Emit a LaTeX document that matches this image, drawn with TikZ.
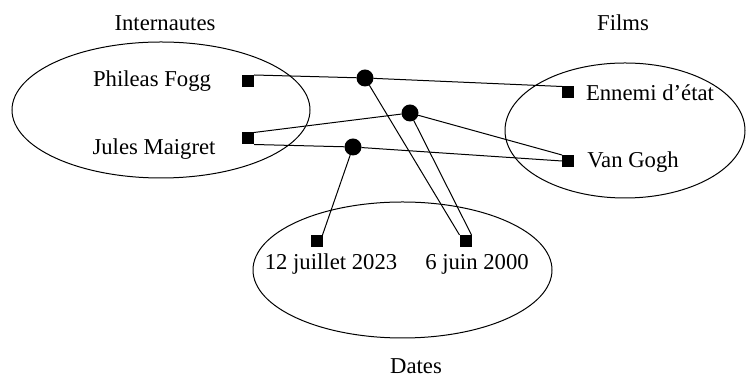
\documentclass[tikz,border=0pt]{standalone}
\usepackage{fontspec}
\setmainfont{Liberation Serif}
\begin{document}
\begin{tikzpicture}[x=0.5pt,y=-0.5pt,
  lbl/.style={inner sep=0pt,font=\fontsize{11.35}{13.6}\selectfont},
  sq/.style={fill=black,draw=none,minimum size=6pt,inner sep=0pt,outer sep=0pt},
  dot/.style={circle,fill=black,draw=none,minimum size=8.5pt,inner sep=0pt,outer sep=0pt},
  grp/.style={ellipse-free},
  link/.style={line width=0.5pt},
  ellipse-free/.style={line width=0.5pt}]
\useasboundingbox (0,0) rectangle (746,378);
% groups
\draw[ellipse-free] (161,110) ellipse [x radius=149, y radius=68];
\draw[ellipse-free] (625,130.5) ellipse [x radius=120, y radius=67.5];
\draw[ellipse-free] (402.5,270) ellipse [x radius=149.5, y radius=68];
% group labels
\node[lbl] (tint) at (165,23) {Internautes};
\node[lbl] (tfilm) at (623,23) {Films};
\node[lbl] (tdate) at (416,366) {Dates};
% element labels
\node[lbl] (tpf) at (152,81) {Phileas Fogg};
\node[lbl] (tjm) at (154,149) {Jules Maigret};
\node[lbl] (tee) at (650,93) {Ennemi d’état};
\node[lbl] (tvg) at (633,162) {Van Gogh};
\node[lbl] (tjul) at (331,264) {12 juillet 2023};
\node[lbl] (tjuin) at (477,264) {6 juin 2000};
% squares
\node[sq] (pf) at (248,81) {};
\node[sq] (jm) at (248,138.5) {};
\node[sq] (ee) at (568,92.5) {};
\node[sq] (vg) at (568,161) {};
\node[sq] (jul) at (316.5,241) {};
\node[sq] (juin) at (465.5,241) {};
% hyperedge dots
\node[dot] (d1) at (365,78) {};
\node[dot] (d2) at (410,113) {};
\node[dot] (d3) at (353,147) {};
% links
\draw[link] (pf.north east) -- (d1);
\draw[link] (d1) -- (ee.north west);
\draw[link] (d1) -- (juin.north west);
\draw[link] (jm.north east) -- (d2);
\draw[link] (d2) -- (vg.north west);
\draw[link] (d2) -- (juin.north east);
\draw[link] (jm.south east) -- (d3);
\draw[link] (d3) -- (vg.west);
\draw[link] (d3) -- (jul.north east);
\end{tikzpicture}
\end{document}
